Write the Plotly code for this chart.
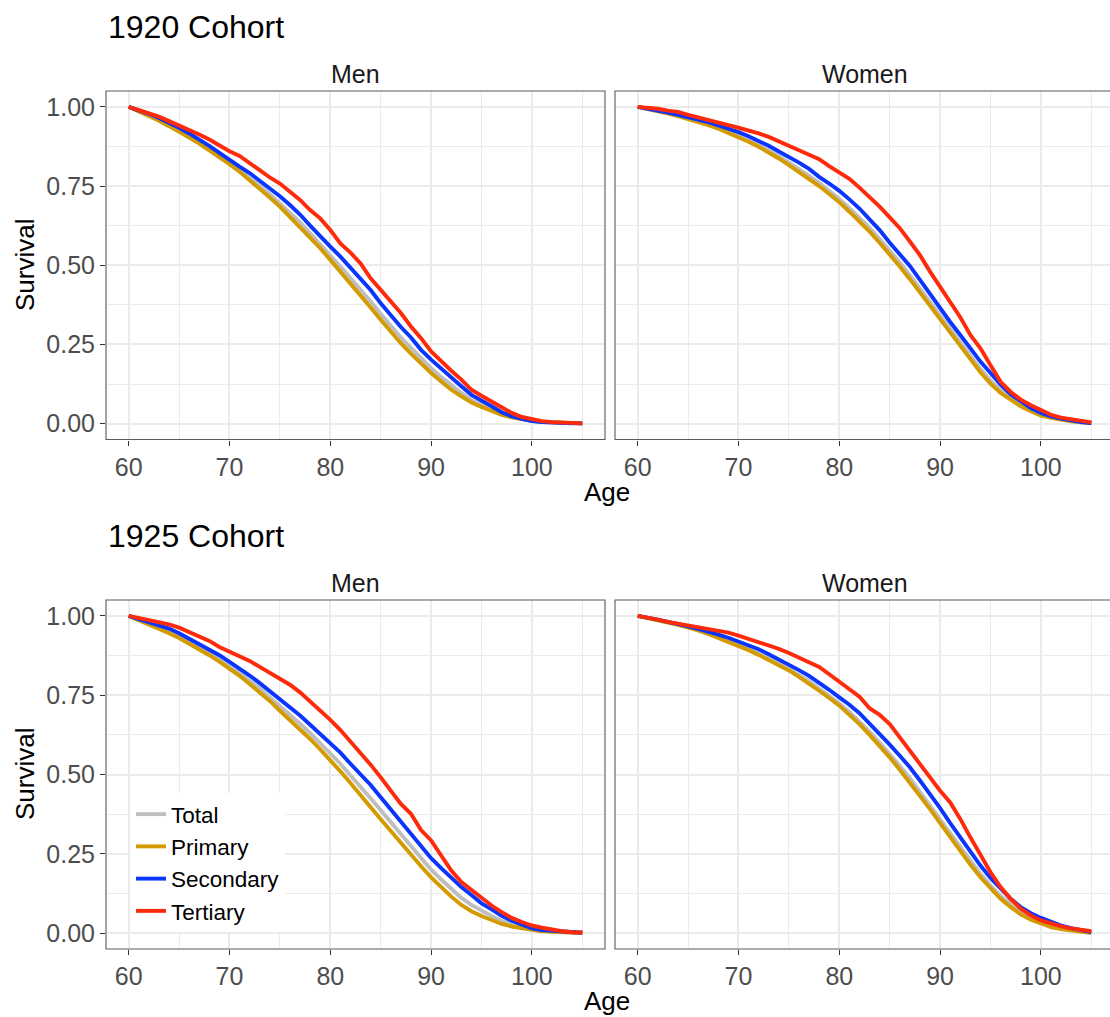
import plotly.graph_objects as go

W, H = 1110, 1017

ages = list(range(60, 106))
groups = ["Total", "Primary", "Secondary", "Tertiary"]
colors = ["#BEBEBE", "#D39B00", "#0A35FF", "#FF2A0A"]
panel_titles = ["Men", "Women"]
cohort_titles = ["1920 Cohort", "1925 Cohort"]
x_ticks = [60, 70, 80, 90, 100]
y_ticks = [0, 0.25, 0.5, 0.75, 1.0]
y_ticktext = ["0.00", "0.25", "0.50", "0.75", "1.00"]

# ---- 1920 cohort, men ----
men_1920_total = [1.000, 0.987, 0.974, 0.959, 0.943, 0.926, 0.908, 0.888, 0.868, 0.846,
                  0.824, 0.801, 0.777, 0.752, 0.724, 0.696, 0.665, 0.635, 0.601, 0.567,
                  0.531, 0.496, 0.460, 0.425, 0.386, 0.346, 0.307, 0.272, 0.239, 0.205,
                  0.175, 0.147, 0.120, 0.097, 0.075, 0.060, 0.045, 0.031, 0.021, 0.014,
                  0.009, 0.006, 0.004, 0.002, 0.001, 0.001]
men_1920_primary = [1.000, 0.986, 0.972, 0.956, 0.939, 0.922, 0.903, 0.884, 0.863, 0.842,
                    0.819, 0.795, 0.769, 0.743, 0.714, 0.685, 0.653, 0.622, 0.588, 0.554,
                    0.517, 0.480, 0.443, 0.407, 0.367, 0.328, 0.289, 0.254, 0.221, 0.189,
                    0.160, 0.133, 0.107, 0.086, 0.067, 0.053, 0.039, 0.028, 0.020, 0.014,
                    0.009, 0.006, 0.004, 0.002, 0.001, 0.001]
men_1920_secondary = [1.000, 0.990, 0.978, 0.965, 0.951, 0.934, 0.916, 0.897, 0.877, 0.855,
                      0.832, 0.811, 0.791, 0.767, 0.742, 0.718, 0.690, 0.660, 0.625, 0.590,
                      0.559, 0.527, 0.491, 0.459, 0.422, 0.380, 0.341, 0.305, 0.272, 0.233,
                      0.202, 0.173, 0.146, 0.118, 0.091, 0.074, 0.055, 0.036, 0.023, 0.015,
                      0.008, 0.005, 0.003, 0.002, 0.001, 0.001]
men_1920_tertiary = [1.000, 0.990, 0.981, 0.969, 0.955, 0.942, 0.929, 0.913, 0.897, 0.877,
                     0.860, 0.845, 0.824, 0.800, 0.777, 0.758, 0.732, 0.706, 0.674, 0.648,
                     0.611, 0.569, 0.540, 0.506, 0.459, 0.422, 0.386, 0.349, 0.307, 0.270,
                     0.228, 0.196, 0.167, 0.139, 0.107, 0.088, 0.070, 0.049, 0.034, 0.021,
                     0.013, 0.008, 0.005, 0.003, 0.002, 0.001]

# ---- 1920 cohort, women ----
women_1920_total = [1.000, 0.994, 0.987, 0.980, 0.972, 0.964, 0.954, 0.945, 0.934, 0.922,
                    0.909, 0.895, 0.880, 0.863, 0.844, 0.824, 0.804, 0.782, 0.760, 0.735,
                    0.709, 0.680, 0.650, 0.618, 0.583, 0.547, 0.509, 0.469, 0.427, 0.385,
                    0.340, 0.297, 0.254, 0.212, 0.173, 0.136, 0.105, 0.082, 0.060, 0.043,
                    0.028, 0.019, 0.012, 0.008, 0.004, 0.002]
women_1920_primary = [1.000, 0.994, 0.986, 0.979, 0.971, 0.962, 0.951, 0.942, 0.931, 0.918,
                      0.904, 0.890, 0.874, 0.856, 0.837, 0.816, 0.795, 0.773, 0.750, 0.725,
                      0.699, 0.669, 0.639, 0.606, 0.571, 0.535, 0.496, 0.456, 0.414, 0.372,
                      0.326, 0.284, 0.241, 0.200, 0.162, 0.126, 0.097, 0.076, 0.055, 0.039,
                      0.025, 0.018, 0.011, 0.007, 0.004, 0.002]
women_1920_secondary = [1.000, 0.995, 0.988, 0.982, 0.975, 0.968, 0.960, 0.952, 0.941, 0.932,
                        0.920, 0.907, 0.893, 0.877, 0.859, 0.842, 0.824, 0.804, 0.779, 0.758,
                        0.735, 0.708, 0.679, 0.645, 0.611, 0.571, 0.534, 0.498, 0.454, 0.409,
                        0.364, 0.321, 0.280, 0.238, 0.196, 0.160, 0.123, 0.093, 0.070, 0.049,
                        0.034, 0.023, 0.016, 0.009, 0.005, 0.002]
women_1920_tertiary = [1.000, 0.998, 0.994, 0.988, 0.984, 0.975, 0.966, 0.959, 0.951, 0.942,
                       0.934, 0.926, 0.916, 0.905, 0.892, 0.877, 0.863, 0.849, 0.835, 0.813,
                       0.792, 0.773, 0.745, 0.716, 0.685, 0.651, 0.617, 0.575, 0.532, 0.480,
                       0.433, 0.385, 0.336, 0.280, 0.238, 0.184, 0.132, 0.100, 0.076, 0.058,
                       0.042, 0.028, 0.019, 0.013, 0.008, 0.004]

# ---- 1925 cohort, men ----
men_1925_total = [1.000, 0.988, 0.977, 0.964, 0.951, 0.936, 0.919, 0.902, 0.884, 0.864,
                  0.842, 0.821, 0.796, 0.771, 0.744, 0.716, 0.689, 0.660, 0.630, 0.599,
                  0.568, 0.534, 0.497, 0.463, 0.425, 0.387, 0.349, 0.312, 0.274, 0.236,
                  0.200, 0.169, 0.138, 0.111, 0.089, 0.070, 0.054, 0.039, 0.028, 0.020,
                  0.011, 0.008, 0.005, 0.003, 0.001, 0.001]
men_1925_primary = [1.000, 0.987, 0.974, 0.960, 0.945, 0.930, 0.913, 0.895, 0.876, 0.856,
                    0.834, 0.811, 0.785, 0.760, 0.732, 0.701, 0.672, 0.642, 0.612, 0.579,
                    0.546, 0.510, 0.473, 0.437, 0.397, 0.359, 0.321, 0.284, 0.248, 0.211,
                    0.176, 0.145, 0.115, 0.089, 0.069, 0.054, 0.040, 0.029, 0.021, 0.015,
                    0.009, 0.006, 0.004, 0.002, 0.001, 0.001]
men_1925_secondary = [1.000, 0.990, 0.981, 0.971, 0.960, 0.945, 0.928, 0.912, 0.896, 0.876,
                      0.855, 0.835, 0.812, 0.788, 0.763, 0.739, 0.714, 0.686, 0.657, 0.629,
                      0.601, 0.569, 0.534, 0.502, 0.467, 0.428, 0.390, 0.353, 0.314, 0.274,
                      0.236, 0.205, 0.173, 0.145, 0.120, 0.094, 0.075, 0.055, 0.039, 0.027,
                      0.015, 0.010, 0.007, 0.004, 0.002, 0.001]
men_1925_tertiary = [1.000, 0.994, 0.987, 0.981, 0.973, 0.963, 0.949, 0.935, 0.921, 0.902,
                     0.888, 0.873, 0.858, 0.839, 0.820, 0.803, 0.783, 0.759, 0.730, 0.703,
                     0.672, 0.640, 0.604, 0.568, 0.531, 0.491, 0.451, 0.407, 0.376, 0.325,
                     0.292, 0.244, 0.197, 0.161, 0.136, 0.113, 0.087, 0.066, 0.048, 0.035,
                     0.024, 0.017, 0.010, 0.006, 0.003, 0.002]

# ---- 1925 cohort, women ----
women_1925_total = [1.000, 0.994, 0.987, 0.980, 0.973, 0.965, 0.955, 0.945, 0.934, 0.922,
                    0.910, 0.896, 0.882, 0.866, 0.850, 0.833, 0.814, 0.794, 0.771, 0.748,
                    0.724, 0.697, 0.668, 0.635, 0.601, 0.565, 0.527, 0.488, 0.446, 0.404,
                    0.360, 0.315, 0.272, 0.228, 0.187, 0.150, 0.117, 0.090, 0.066, 0.048,
                    0.035, 0.024, 0.016, 0.010, 0.005, 0.002]
women_1925_primary = [1.000, 0.994, 0.986, 0.979, 0.972, 0.964, 0.954, 0.943, 0.931, 0.919,
                      0.906, 0.892, 0.877, 0.861, 0.845, 0.828, 0.808, 0.787, 0.764, 0.741,
                      0.717, 0.688, 0.659, 0.625, 0.591, 0.554, 0.515, 0.475, 0.433, 0.391,
                      0.347, 0.302, 0.260, 0.216, 0.176, 0.140, 0.108, 0.082, 0.059, 0.042,
                      0.029, 0.019, 0.013, 0.007, 0.004, 0.001]
women_1925_secondary = [1.000, 0.995, 0.988, 0.981, 0.975, 0.967, 0.959, 0.951, 0.941, 0.931,
                        0.920, 0.909, 0.895, 0.879, 0.863, 0.847, 0.829, 0.811, 0.790, 0.767,
                        0.743, 0.720, 0.693, 0.661, 0.630, 0.594, 0.559, 0.523, 0.481, 0.439,
                        0.394, 0.347, 0.302, 0.257, 0.213, 0.174, 0.140, 0.108, 0.082, 0.063,
                        0.048, 0.035, 0.024, 0.016, 0.008, 0.003]
women_1925_tertiary = [1.000, 0.995, 0.988, 0.981, 0.975, 0.969, 0.964, 0.960, 0.954, 0.947,
                       0.938, 0.928, 0.919, 0.909, 0.896, 0.883, 0.869, 0.855, 0.839, 0.816,
                       0.792, 0.766, 0.745, 0.709, 0.688, 0.659, 0.617, 0.577, 0.533, 0.489,
                       0.449, 0.412, 0.360, 0.302, 0.244, 0.192, 0.145, 0.108, 0.077, 0.056,
                       0.040, 0.029, 0.021, 0.015, 0.010, 0.006]

panels = [
    # (axis suffix, series, show legend)
    ("", [men_1920_total, men_1920_primary, men_1920_secondary, men_1920_tertiary], False),
    ("2", [women_1920_total, women_1920_primary, women_1920_secondary, women_1920_tertiary], False),
    ("3", [men_1925_total, men_1925_primary, men_1925_secondary, men_1925_tertiary], True),
    ("4", [women_1925_total, women_1925_primary, women_1925_secondary, women_1925_tertiary], False),
]

FONT = "Liberation Sans, Arial, Helvetica, sans-serif"


def px_x(p):
    return p / W


def px_y(p):
    return 1 - p / H


PX = 10.081  # pixels per year
men_left, men_right = 106, 605
wom_left = 615
top_top, top_bot = 91, 439.5
bot_top, bot_bot = 600, 949

fig = go.Figure()

for suffix, series, showleg in panels:
    for name, col, vals in zip(groups, colors, series):
        fig.add_trace(go.Scatter(
            x=ages, y=vals, mode="lines", name=name,
            line=dict(color=col, width=3.9),
            xaxis="x" + suffix, yaxis="y" + suffix,
            showlegend=showleg, hoverinfo="skip",
        ))

grid = "#EBEBEB"
tickc = "#333333"


def xaxis(domain, rng, anchor):
    return dict(
        domain=domain, range=rng, anchor=anchor,
        tickmode="array", tickvals=x_ticks, ticktext=[str(t) for t in x_ticks],
        ticks="outside", ticklen=5, tickwidth=1.1, tickcolor=tickc,
        tickfont=dict(family=FONT, size=25, color="#4D4D4D"),
        showgrid=True, gridcolor=grid, gridwidth=1.6,
        minor=dict(tickvals=[65, 75, 85, 95, 105], showgrid=True, gridcolor=grid, gridwidth=0.8, ticks=""),
        zeroline=False, showline=False, automargin=False, fixedrange=True,
    )


def yaxis(domain, anchor, labels):
    d = dict(
        domain=domain, range=[-0.05, 1.05], anchor=anchor,
        tickmode="array", tickvals=y_ticks, ticktext=y_ticktext,
        showgrid=True, gridcolor=grid, gridwidth=1.6,
        minor=dict(tickvals=[0.125, 0.375, 0.625, 0.875], showgrid=True, gridcolor=grid, gridwidth=0.8, ticks=""),
        zeroline=False, showline=False, automargin=False, fixedrange=True,
    )
    if labels:
        d.update(ticks="outside", ticklen=5, tickwidth=1.1, tickcolor=tickc,
                 tickfont=dict(family=FONT, size=25, color="#4D4D4D"))
    else:
        d.update(ticks="", showticklabels=False)
    return d


men_dom = [px_x(men_left), px_x(men_right)]
wom_dom = [px_x(wom_left), 1.0]
men_rng = [57.75, 107.25]
wom_rng = [57.75, 57.75 + (W - wom_left) / PX]
top_dom = [px_y(top_bot), px_y(top_top)]
bot_dom = [px_y(bot_bot), px_y(bot_top)]

fig.update_layout(
    xaxis=xaxis(men_dom, men_rng, "y"),
    yaxis=yaxis(top_dom, "x", True),
    xaxis2=xaxis(wom_dom, wom_rng, "y2"),
    yaxis2=yaxis(top_dom, "x2", False),
    xaxis3=xaxis(men_dom, men_rng, "y3"),
    yaxis3=yaxis(bot_dom, "x3", True),
    xaxis4=xaxis(wom_dom, wom_rng, "y4"),
    yaxis4=yaxis(bot_dom, "x4", False),
)

shapes = []
for (l, r) in [(men_left, men_right), (wom_left, wom_left + 499)]:
    for (t, b) in [(top_top, top_bot), (bot_top, bot_bot)]:
        shapes.append(dict(type="rect", xref="paper", yref="paper",
                           x0=px_x(l), x1=px_x(r), y0=px_y(b), y1=px_y(t),
                           line=dict(color="#5A5A5A", width=1.1), layer="above"))

annotations = []
offset = bot_top - top_top
for i, title in enumerate(cohort_titles):
    dy = i * offset
    annotations.append(dict(text=title, x=px_x(106), y=px_y(27 + dy), xref="paper", yref="paper",
                            xanchor="left", yanchor="middle", showarrow=False,
                            font=dict(family=FONT, size=32, color="black")))
    for j, pt in enumerate(panel_titles):
        cx = (men_left + men_right) / 2 if j == 0 else (wom_left + wom_left + 499) / 2
        annotations.append(dict(text=pt, x=px_x(cx), y=px_y(74 + dy), xref="paper", yref="paper",
                                xanchor="center", yanchor="middle", showarrow=False,
                                font=dict(family=FONT, size=25, color="#1A1A1A")))
    annotations.append(dict(text="Age", x=px_x(607), y=px_y(492 + dy), xref="paper", yref="paper",
                            xanchor="center", yanchor="middle", showarrow=False,
                            font=dict(family=FONT, size=26, color="black")))
    annotations.append(dict(text="Survival", x=px_x(25), y=px_y(265 + dy), xref="paper", yref="paper",
                            xanchor="center", yanchor="middle", showarrow=False, textangle=-90,
                            font=dict(family=FONT, size=26, color="black")))

fig.update_layout(
    width=W, height=H,
    margin=dict(l=0, r=0, t=0, b=0),
    paper_bgcolor="white", plot_bgcolor="white",
    shapes=shapes, annotations=annotations,
    font=dict(family=FONT),
    legend=dict(x=px_x(131), y=px_y(793), xanchor="left", yanchor="top",
                bgcolor="white", borderwidth=0, traceorder="normal",
                font=dict(family=FONT, size=22.5, color="black"),
                itemwidth=30, tracegroupgap=0),
    showlegend=True,
)

fig.write_html("out.html")
